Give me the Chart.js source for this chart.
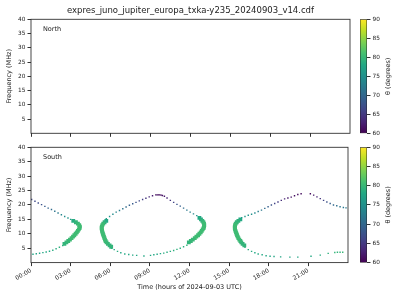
<!DOCTYPE html>
<html>
<head>
<meta charset="utf-8">
<script src="https://cdn.jsdelivr.net/npm/chart.js@4.4.1/dist/chart.umd.min.js"></script>
<style>
  body { margin: 0; background: #fff; }
  #wrap { position: relative; width: 400px; height: 300px; overflow: hidden; }
  canvas { position: absolute; }
</style>
</head>
<body>
<div id="wrap">
  <canvas id="north" width="352" height="140" style="left:0;top:0"></canvas>
  <canvas id="south" width="352" height="160" style="left:0;top:140px"></canvas>
  <canvas id="cbarN" width="45" height="140" style="left:355px;top:0"></canvas>
  <canvas id="cbarS" width="45" height="160" style="left:355px;top:140px"></canvas>
</div>
<script>
// axis ticks
const hourTicks = [0, 3, 6, 9, 12, 15, 18, 21];
const hourLabels = ['00:00', '03:00', '06:00', '09:00', '12:00', '15:00', '18:00', '21:00'];
const freqTicks = [5, 10, 15, 20, 25, 30, 35, 40];
const thetaTicks = [60, 65, 70, 75, 80, 85, 90];

// North hemisphere: nothing visible
const northPoints = [];

// South, thin parts: [hour, MHz, theta deg]
const upperA = [[0.05,21.9,66],[0.3,21.3,66.5],[0.55,20.7,67],[0.8,20.1,67.5],[1.05,19.5,68.5],[1.3,18.9,69.5],
  [1.55,18.4,70.5],[1.8,17.8,71.5],[2.05,17.2,72.5],[2.3,16.6,73.5],[2.55,16.0,74.5],[2.8,15.5,75.5],[3.0,15.0,76.5]];
const lowerA = [[2.4,5.9,79],[2.15,5.3,79],[1.9,4.8,78.5],[1.65,4.3,78.5],[1.4,3.95,78],[1.15,3.7,78],
  [0.9,3.45,78],[0.65,3.25,77.5],[0.4,3.05,77.5],[0.15,2.9,77.5]];
const upperB = [[5.7,15.2,76.5],[5.95,16.0,75.5],[6.2,16.8,74.5],[6.45,17.5,73.5],[6.7,18.1,72.5],[6.95,18.7,71.5],
  [7.2,19.3,70.5],[7.45,19.9,69.5],[7.7,20.4,68.5],[7.95,20.9,67.5],[8.2,21.4,66.5],[8.45,21.9,65.5],[8.7,22.3,64.5],
  [8.95,22.8,63.5],[9.2,23.2,62.5],[9.45,23.5,61.5],[9.55,23.5,61],[9.65,23.5,61],[9.75,23.5,61],[9.85,23.4,61],
  [9.95,23.3,61.5],[10.1,23.0,62],[10.3,22.4,63],[10.55,21.6,64.5],[10.8,20.9,66],[11.05,20.2,67.5],[11.3,19.6,69],
  [11.55,18.9,70.5],[11.8,18.2,72],[12.05,17.5,73],[12.3,16.9,74],[12.55,16.3,75.5]];
const lowerB = [[6.1,5.0,79],[6.3,4.5,78.5],[6.55,3.9,78.5],[6.8,3.4,78],[7.1,3.0,78],[7.4,2.8,78],[7.7,2.6,78],
  [8.0,2.5,78],[8.55,2.3,78],[9.05,2.5,78],[9.3,2.7,78],[9.55,2.9,78],[9.8,3.1,78],[10.05,3.3,78.5],[10.3,3.6,78.5],
  [10.55,3.9,78.5],[10.8,4.2,79],[11.05,4.6,79],[11.3,5.0,79],[11.55,5.5,79],[11.8,6.0,79.5]];
const upperC = [[15.95,15.6,76.5],[16.2,16.0,76],[16.45,16.4,75.5],[16.7,16.8,75],[16.95,17.2,74],[17.2,17.7,73],
  [17.45,18.2,72],[17.7,18.8,70.5],[17.95,19.4,69],[18.2,20.0,67.5],[18.45,20.5,66],[18.7,21.0,65],[18.95,21.6,64],
  [19.2,22.1,63],[19.45,22.4,62],[19.7,22.7,61.5],[19.95,23.2,61],[20.2,23.6,61],[20.45,23.9,61],[21.15,23.9,61],
  [21.4,23.4,62],[21.65,22.8,63],[21.9,22.2,64.5],[22.15,21.6,66],[22.4,21.0,67.5],[22.65,20.5,69],[22.9,20.0,70],
  [23.15,19.7,71],[23.4,19.4,71.5],[23.65,19.1,72],[23.85,19.0,72]];
const lowerC = [[16.2,5.3,79],[16.45,4.5,78.5],[16.7,3.9,78.5],[16.95,3.4,78],[17.2,3.0,78],[17.5,2.7,78],[17.8,2.4,78],
  [18.1,2.2,77.5],[18.4,2.1,77.5],[18.9,2.0,77.5],[19.6,1.9,77.5],[20.2,1.9,77.5],[21.2,2.2,78],[21.9,2.6,78.5],
  [22.5,3.2,79],[23.0,3.5,79.5],[23.2,3.6,79.5],[23.4,3.6,79.5],[23.6,3.6,80]];

// South, thick parts near the turning points: [hour, MHz, theta deg]
const noseA = [[3.2,14.5,78.5],[3.4,14.0,79.5],[3.55,13.5,80],[3.65,13.0,80.5],[3.7,12.5,80.5],[3.68,12.0,80.5],
  [3.62,11.5,80.5],[3.55,11.0,80.5],[3.47,10.5,80.5],[3.38,10.0,80.5],[3.28,9.5,80.5],[3.18,9.0,80.5],[3.07,8.5,80.5],
  [2.95,8.0,80.5],[2.82,7.5,80],[2.68,7.0,80],[2.53,6.5,79.5]];
const noseB1 = [[5.7,14.5,78],[5.57,14.0,79],[5.47,13.5,80],[5.4,13.0,80.5],[5.36,12.5,80.5],[5.35,12.0,80.5],
  [5.36,11.5,80.5],[5.38,11.0,80.5],[5.41,10.5,80.5],[5.44,10.0,80.5],[5.48,9.5,80.5],[5.52,9.0,80.5],[5.56,8.5,80.5],
  [5.6,8.0,80.5],[5.65,7.5,80.5],[5.72,7.0,80],[5.82,6.5,80],[5.95,6.0,79.5],[6.07,5.5,79.5]];
const noseB2 = [[12.75,15.5,78],[12.87,15.0,78.5],[12.97,14.5,79.5],[13.05,14.0,80],[13.1,13.5,80.5],[13.12,13.0,80.5],
  [13.1,12.5,80.5],[13.07,12.0,80.5],[13.0,11.5,80.5],[12.93,11.0,80.5],[12.85,10.5,80.5],[12.75,10.0,80.5],
  [12.65,9.5,80.5],[12.52,9.0,80.5],[12.4,8.5,80.5],[12.25,8.0,80],[12.1,7.5,80],[11.95,7.0,79.5]];
const noseC = [[15.85,15.0,78],[15.7,14.5,79],[15.58,14.0,79.5],[15.5,13.5,80],[15.45,13.0,80.5],[15.43,12.5,80.5],
  [15.43,12.0,80.5],[15.45,11.5,80.5],[15.48,11.0,80.5],[15.52,10.5,80.5],[15.56,10.0,80.5],[15.6,9.5,80.5],
  [15.65,9.0,80.5],[15.7,8.5,80.5],[15.77,8.0,80.5],[15.85,7.5,80],[15.92,7.0,80],[16.02,6.5,79.5],[16.15,6.0,79.5]];

const thinPts = [...upperA, ...lowerA, ...upperB, ...lowerB, ...upperC, ...lowerC];
const thickPts = [...noseA, ...noseB1, ...noseB2, ...noseC];

// viridis colormap, 60..90 deg
const viridis = ['#440154','#482475','#414487','#355f8d','#2a788e','#21918c','#22a884','#44bf70','#7ad151','#bddf26','#fde725'];
function hexRgb(h) { return [1, 3, 5].map(i => parseInt(h.substr(i, 2), 16)); }
function thetaColor(th) {
  let t = Math.min(Math.max((th - 60) / 30, 0), 1) * 10;
  const i = Math.min(Math.floor(t), 9), f = t - i;
  const a = hexRgb(viridis[i]), b = hexRgb(viridis[i + 1]);
  const c = a.map((v, k) => Math.round(v + (b[k] - v) * f));
  return 'rgb(' + c.join(',') + ')';
}

Chart.defaults.font.family = "'DejaVu Sans', sans-serif";
Chart.defaults.color = '#222';

const ink = '#222';
const font = '"DejaVu Sans", sans-serif';

// frame, panel label and title
const panelText = {
  id: 'panelText',
  afterDraw(chart, args, opts) {
    const { ctx, chartArea: a } = chart;
    ctx.save();
    ctx.strokeStyle = '#333';
    ctx.lineWidth = 0.9;
    ctx.strokeRect(a.left, a.top, a.right - a.left, a.bottom - a.top);
    ctx.fillStyle = ink;
    ctx.textBaseline = 'middle';
    ctx.font = '6.5px ' + font;
    ctx.fillText(opts.label, a.left + 12, a.top + 10.5);
    if (opts.title) {
      ctx.font = '8.5px ' + font;
      ctx.textAlign = 'center';
      ctx.fillText(opts.title, (a.left + a.right) / 2, 11);
    }
    ctx.restore();
  }
};

function toDataset(pts, r) {
  return {
    data: pts.map(p => ({ x: p[0], y: p[1] })),
    pointStyle: 'rect',
    pointRadius: r,
    borderWidth: 0,
    backgroundColor: ctx => thetaColor(pts[ctx.dataIndex] ? pts[ctx.dataIndex][2] : 75),
    showLine: false
  };
}

function panel(id, datasets, label, title, padTop, xHeight, showLabels) {
  return new Chart(document.getElementById(id), {
    type: 'scatter',
    data: { datasets: datasets },
    options: {
      responsive: false,
      animation: false,
      devicePixelRatio: 1,
      events: [],
      layout: { padding: { top: padTop, right: 2, bottom: 0, left: 0 } },
      plugins: {
        legend: { display: false },
        tooltip: { enabled: false },
        panelText: { label: label, title: title }
      },
      scales: {
        x: {
          type: 'linear', min: 0, max: 24,
          afterBuildTicks: s => { s.ticks = hourTicks.map(v => ({ value: v })); },
          ticks: {
            display: showLabels,
            callback: v => hourLabels[hourTicks.indexOf(v)],
            maxRotation: 30, minRotation: 30,
            font: { size: 6 }, color: ink, padding: 1
          },
          grid: { drawOnChartArea: false, drawTicks: true, tickLength: 3.5, color: '#333' },
          border: { display: false },
          title: {
            display: showLabels, text: 'Time (hours of 2024-09-03 UTC)',
            font: { size: 6.5 }, color: ink, padding: { top: 0, bottom: 9 }
          },
          afterFit: s => { s.height = xHeight; }
        },
        y: {
          min: 0, max: 40,
          afterBuildTicks: s => { s.ticks = freqTicks.map(v => ({ value: v })); },
          ticks: { font: { size: 5.8 }, color: ink, padding: 2 },
          grid: { drawOnChartArea: false, tickLength: 3.5, color: '#333' },
          border: { display: false },
          title: {
            display: true, text: 'Frequency (MHz)',
            font: { size: 6.5 }, color: ink, padding: { top: 5.5, bottom: 0 }
          },
          afterFit: s => { s.width = 31; }
        }
      }
    },
    plugins: [panelText]
  });
}

panel('north', [toDataset(northPoints, 1)],
  'North', 'expres_juno_jupiter_europa_txka-y235_20240903_v14.cdf', 19.3, 6.7, false);
panel('south', [toDataset(thinPts, 1), toDataset(thickPts, 2.7)],
  'South', null, 7.3, 37.4, true);

// colorbar label, reading bottom to top
const cbarLabel = {
  id: 'cbarLabel',
  afterDraw(chart) {
    const { ctx, chartArea: a } = chart;
    ctx.save();
    ctx.translate(33, (a.top + a.bottom) / 2);
    ctx.rotate(-Math.PI / 2);
    ctx.fillStyle = ink;
    ctx.font = '6.5px ' + font;
    ctx.textAlign = 'center';
    ctx.textBaseline = 'middle';
    ctx.fillText('\u03b8 (degrees)', 0, 0);
    ctx.restore();
  }
};

function colorbar(id, padTop, padBottom) {
  return new Chart(document.getElementById(id), {
    type: 'bar',
    data: {
      labels: [''],
      datasets: [{
        data: [[thetaTicks[0], thetaTicks[thetaTicks.length - 1]]],
        backgroundColor: ctx => {
          const a = ctx.chart.chartArea;
          if (!a) return null;
          const g = ctx.chart.ctx.createLinearGradient(0, a.bottom, 0, a.top);
          viridis.forEach((c, i) => g.addColorStop(i / 10, c));
          return g;
        },
        borderColor: '#222',
        borderWidth: 0.8,
        borderSkipped: false,
        barPercentage: 1,
        categoryPercentage: 1
      }]
    },
    options: {
      responsive: false,
      animation: false,
      devicePixelRatio: 1,
      events: [],
      layout: { padding: { top: padTop, right: 0, bottom: padBottom, left: 5 } },
      plugins: { legend: { display: false }, tooltip: { enabled: false } },
      scales: {
        x: { display: false },
        y: {
          position: 'right', min: 60, max: 90,
          afterBuildTicks: s => { s.ticks = thetaTicks.map(v => ({ value: v })); },
          ticks: { font: { size: 5.8 }, color: ink, padding: 2 },
          grid: { drawOnChartArea: false, tickLength: 3.5, color: '#333' },
          border: { display: false },
          afterFit: s => { s.width = 33; }
        }
      }
    },
    plugins: [cbarLabel]
  });
}

colorbar('cbarN', 19.3, 6.7);
colorbar('cbarS', 7.3, 37.4);
</script>
</body>
</html>
